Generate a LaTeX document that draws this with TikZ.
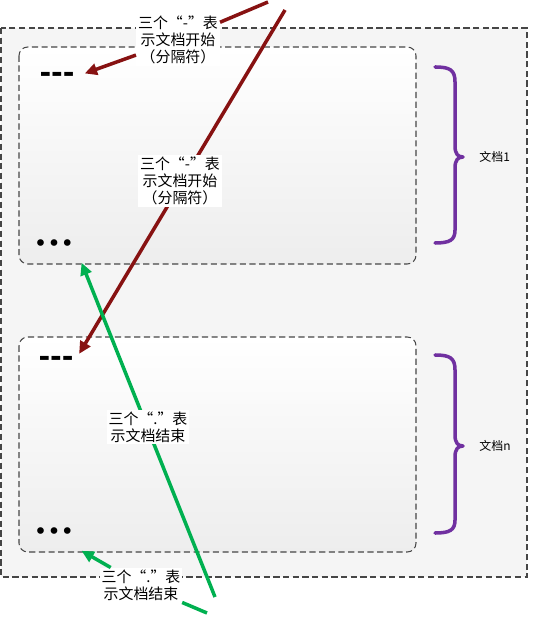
\documentclass[tikz,border=0pt]{standalone}
\usepackage{fontspec}
\newfontfamily\cjk{Noto Sans CJK SC}
\newfontfamily\markfont{DejaVu Sans}
\usetikzlibrary{arrows.meta}

\definecolor{sepred}{RGB}{135,18,18}
\definecolor{endgreen}{RGB}{0,176,80}
\definecolor{bracepurple}{RGB}{112,48,160}
\definecolor{boxline}{RGB}{70,70,70}

\tikzset{
    framebox/.style={draw=boxline,dash pattern=on 3.5pt off 2pt,line width=0.6pt},
    notelabel/.style={fill=white,inner sep=1pt,align=center,
        font=\cjk\fontsize{8.5}{9.6}\selectfont},
    doclabel/.style={anchor=west,inner sep=0pt,font=\cjk\fontsize{6.8}{8}\selectfont},
    dashmark/.style={inner sep=0pt,font=\markfont\bfseries\fontsize{16}{16}\selectfont},
    dotmark/.style={inner sep=0pt,font=\markfont\fontsize{13}{13}\selectfont},
    docbrace/.style={draw=bracepurple,line width=2pt,line cap=round,line join=round},
}

\begin{document}
\begin{tikzpicture}[x=0.02cm,y=-0.02cm]
\useasboundingbox (0,0) rectangle (532,617);

% outer frame and the two documents
\path[framebox,fill=black!4] (1,28) rectangle (527,577);
\path[framebox,rounded corners=5pt,top color=white,bottom color=black!7] (19,47) rectangle (416,264);
\path[framebox,rounded corners=5pt,top color=white,bottom color=black!7] (19,337) rectangle (416,552);

\begin{scope}[every node/.style={}]
    \node (dash1) at (57,77) [dashmark] {-{}-{}-};
    \node (dots1) at (54,246) [dotmark] {•••};

    \node (dash2) at (56,361) [dashmark] {-{}-{}-};
    \node (dots2) at (54,534) [dotmark] {•••};

    \node (doc1) at (479,157) [doclabel] {文档1};
    \node (docn) at (479,446) [doclabel] {文档n};
\end{scope}

% braces
\path[docbrace] (435,67) .. controls (450,67) and (455,70) .. (455,82)
    -- (455,146) .. controls (455,154) and (458,157) .. (463,157)
    .. controls (458,157) and (455,160) .. (455,168)
    -- (455,230) .. controls (455,240) and (450,243) .. (435,243);
\path[docbrace] (435,355) .. controls (450,355) and (455,358) .. (455,370)
    -- (455,435) .. controls (455,443) and (458,446) .. (463,446)
    .. controls (458,446) and (455,449) .. (455,457)
    -- (455,520) .. controls (455,530) and (450,533) .. (435,533);

\coordinate (redtop1) at (268,2);
\coordinate (redtop2) at (285,10);
\coordinate (greenbot1) at (215,597);
\coordinate (greenbot2) at (207,613);

\node (sep1) at (178,40) [notelabel] {三个“-”表\\示文档开始\\（分隔符）};
\node (end2) at (141,585) [notelabel] {三个“.”表\\示文档结束};

\begin{scope}[>={Triangle[length=7pt,width=6.5pt]},line width=2pt]
    \draw[sepred] (redtop1) -- (sep1);
    \draw[sepred,->,shorten >=6pt] (sep1) -- (dash1.east);
    \draw[sepred,->] (redtop2) -- ([xshift=3pt,yshift=1pt]dash2.north east);
    \draw[endgreen,->] (greenbot1) -- ([xshift=4pt,yshift=-6pt]dots1.south east);
    \draw[endgreen] (greenbot2) -- (end2);
    \draw[endgreen,->] (end2) -- ([xshift=4pt,yshift=-6pt]dots2.south east);
\end{scope}

\node (sep2) at (180,181) [notelabel] {三个“-”表\\示文档开始\\（分隔符）};
\node (end1) at (148,427) [notelabel] {三个“.”表\\示文档结束};
\end{tikzpicture}
\end{document}
